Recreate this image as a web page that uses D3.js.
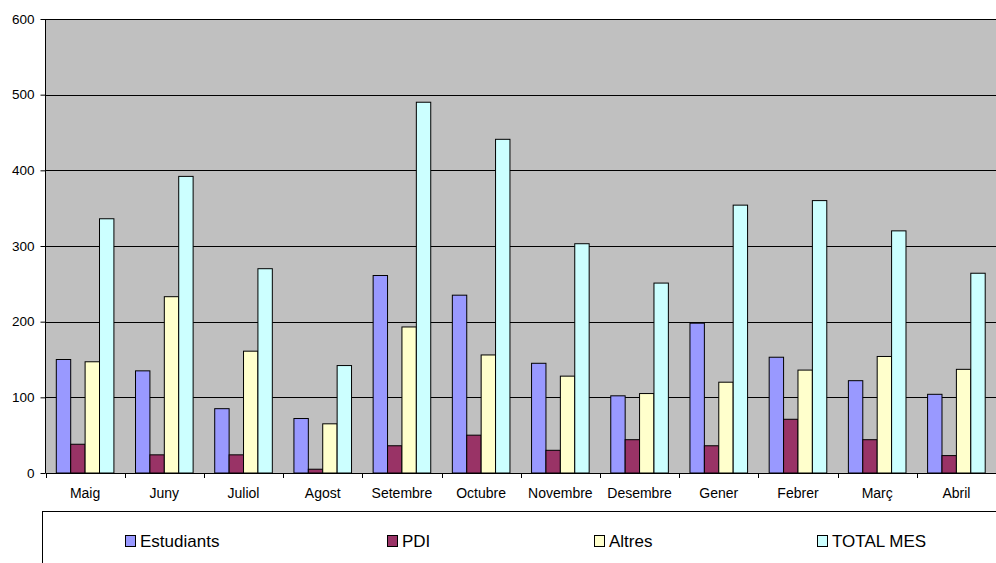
<!DOCTYPE html>
<html>
<head>
<meta charset="utf-8">
<script src="https://cdn.jsdelivr.net/npm/d3@7"></script>
<style>
  html, body { margin: 0; padding: 0; background: #fff; }
  svg { display: block; font-family: "Liberation Sans", Arial, sans-serif; }
</style>
</head>
<body>
<svg id="chart" width="996" height="563"></svg>
<script>
const months = ["Maig","Juny","Juliol","Agost","Setembre","Octubre","Novembre","Desembre","Gener","Febrer","Març","Abril"];
const seriesNames = ["Estudiants","PDI","Altres","TOTAL MES"];
const estudiants = [150,135,85,72,261,235,145,102,198,153,122,104];
const pdi        = [38,24,24,5,36,50,30,44,36,71,44,23];
const altres     = [147,233,161,65,193,156,128,105,120,136,154,137];
const totalMes   = [336,392,270,142,490,441,303,251,354,360,320,264];
const yTicks = [0,100,200,300,400,500,600];
const colors = ["#9999FF","#993366","#FFFFCC","#CCFFFF"];

const seriesValues = [estudiants, pdi, altres, totalMes];

const svg = d3.select("#chart");
const plotL = 45.5, plotR = 996, plotT = 19, plotB = 473;

const x = d3.scaleBand().domain(months).range([plotL, plotR]).paddingInner(0).paddingOuter(0);
const xs = d3.scaleBand().domain(seriesNames).range([0, x.bandwidth()]).paddingInner(0).paddingOuter(0.75);
const y = d3.scaleLinear().domain([0, 600]).range([plotB, plotT]);

// plot background
svg.append("rect").attr("x", plotL).attr("y", plotT).attr("width", plotR - plotL).attr("height", plotB - plotT)
  .attr("fill", "#C0C0C0");

// gridlines
svg.append("g").selectAll("line").data(yTicks.filter(d => d > 0)).join("line")
  .attr("x1", plotL).attr("x2", plotR)
  .attr("y1", d => Math.round(y(d)) + 0.5).attr("y2", d => Math.round(y(d)) + 0.5)
  .attr("stroke", "#000").attr("stroke-width", 1);

// bars
const groups = svg.append("g").selectAll("g").data(months).join("g")
  .attr("transform", d => `translate(${x(d)},0)`);
groups.selectAll("rect").data((m, i) => seriesNames.map((s, k) => ({ s, k, v: seriesValues[k][i] })))
  .join("rect")
  .attr("x", d => xs(d.s))
  .attr("y", d => y(d.v))
  .attr("width", xs.bandwidth())
  .attr("height", d => plotB - y(d.v))
  .attr("fill", d => colors[d.k])
  .attr("stroke", "#000").attr("stroke-width", 1);

// y axis
const yAxis = d3.axisLeft(y).tickValues(yTicks).tickSize(5).tickPadding(6).tickFormat(d3.format("d"));
const gy = svg.append("g").attr("transform", `translate(${plotL},0)`).call(yAxis);
gy.select(".domain").attr("stroke", "#000").attr("d", `M0,${plotT}V${plotB}`);
gy.selectAll(".tick line").attr("stroke", "#000");
gy.selectAll(".tick text").attr("font-size", 13.5).attr("fill", "#000")
  .attr("font-family", "'Liberation Sans', Arial, sans-serif");

// x axis: ticks at category boundaries
const gx = svg.append("g").attr("transform", `translate(0,${plotB})`);
gx.append("line").attr("x1", plotL).attr("x2", plotR).attr("y1", 0.5).attr("y2", 0.5).attr("stroke", "#000");
const boundaries = months.map(m => x(m)).concat([plotR - 0.5]);
gx.selectAll("line.tk").data(boundaries).join("line").attr("class", "tk")
  .attr("x1", d => Math.round(d) + 0.5).attr("x2", d => Math.round(d) + 0.5)
  .attr("y1", 0).attr("y2", 5).attr("stroke", "#000");
gx.selectAll("text").data(months).join("text")
  .attr("x", d => x(d) + x.bandwidth() / 2)
  .attr("y", 25)
  .attr("text-anchor", "middle")
  .attr("font-size", 14)
  .attr("fill", "#000")
  .text(d => d);

// legend box
svg.append("rect").attr("x", 42.5).attr("y", 511.5).attr("width", 980).attr("height", 80)
  .attr("fill", "#fff").attr("stroke", "#000").attr("stroke-width", 1);

const legendX = [125, 387, 594, 817];
const lg = svg.append("g").selectAll("g").data(seriesNames).join("g")
  .attr("transform", (d, i) => `translate(${legendX[i]},535)`);
lg.append("rect").attr("x", 0.5).attr("y", 0.5).attr("width", 10).attr("height", 11)
  .attr("fill", (d, i) => colors[i]).attr("stroke", "#000");
lg.append("text").attr("x", 15).attr("y", 11.5).attr("font-size", 17).attr("fill", "#000").text(d => d);
</script>
</body>
</html>
